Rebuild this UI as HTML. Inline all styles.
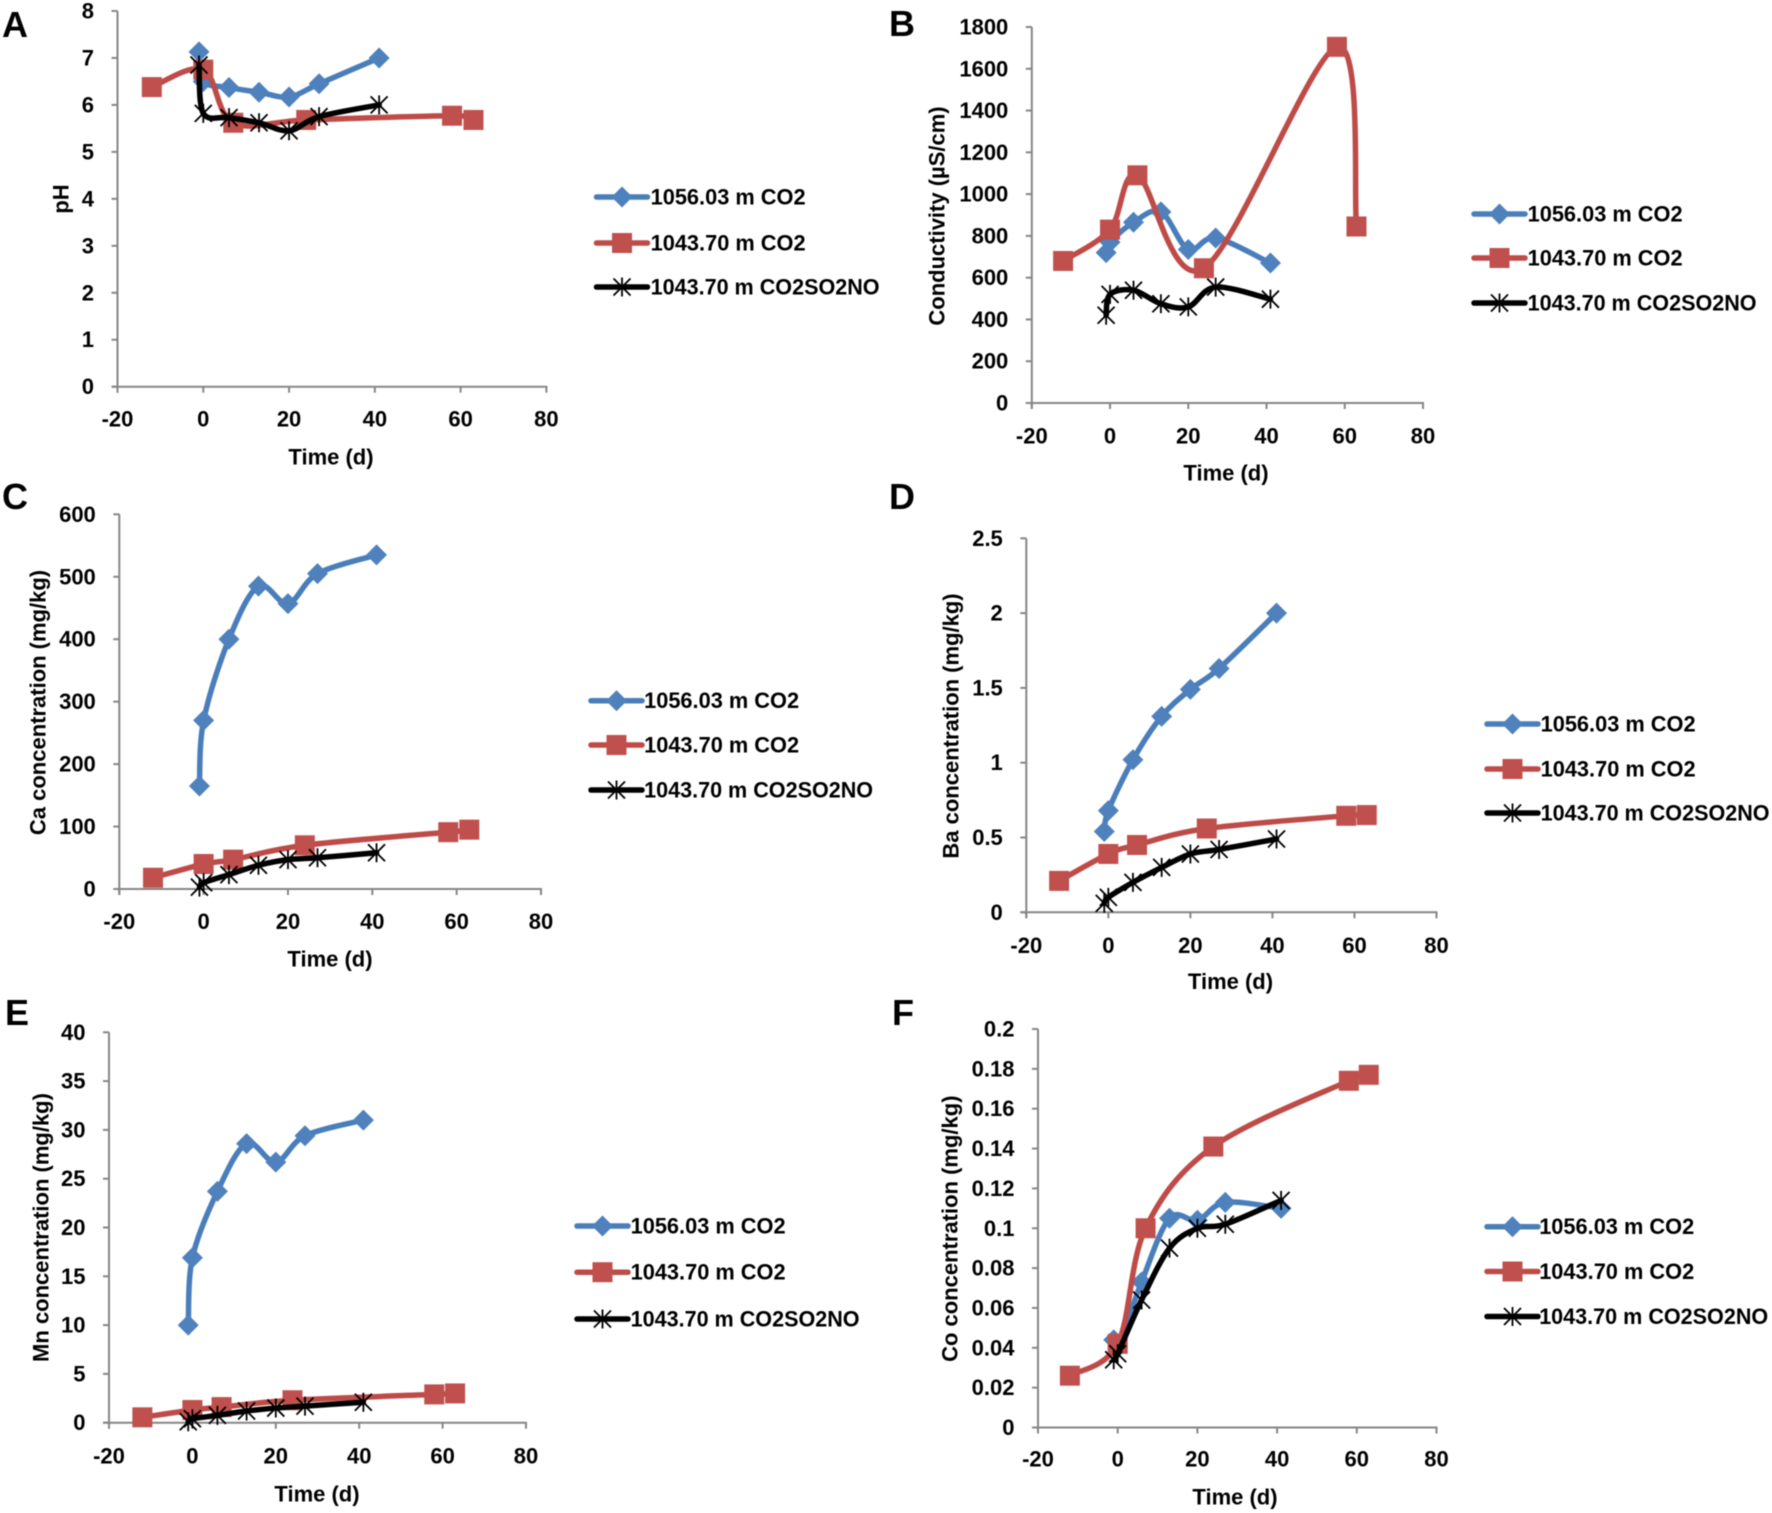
<!DOCTYPE html>
<html lang="en">
<head>
<meta charset="utf-8">
<title>Time series of pH, conductivity and metal concentrations</title>
<style>
html,body{margin:0;padding:0;background:#fff;}
svg{display:block;filter:blur(0.5px);}
text{font-family:"Liberation Sans",Arial,sans-serif;font-weight:bold;fill:#000;}
</style>
</head>
<body>
<svg id="figure" xmlns="http://www.w3.org/2000/svg" width="1772" height="1513" viewBox="0 0 1772 1513"></svg>
<script>
// Shared categories (days)
const timesBlue  = [-1, 0, 6, 13, 20, 27, 41];
const timesRed   = [-12, 0, 7, 24, 58, 63];
const timesBlack = [-1, 0, 6, 13, 20, 27, 41];
const xTickValues = [-20, 0, 20, 40, 60, 80];
const seriesNames = ['1056.03 m CO2', '1043.70 m CO2', '1043.70 m CO2SO2NO'];

// Panel A: pH
const phBlue  = [7.13, 6.5, 6.37, 6.27, 6.17, 6.45, 7.0];
const phRed   = [6.38, 6.75, 5.62, 5.68, 5.77, 5.68];
const phBlack = [6.85, 5.82, 5.73, 5.62, 5.45, 5.75, 6.0];
const phTicks = [0, 1, 2, 3, 4, 5, 6, 7, 8];

// Panel B: conductivity
const condBlue  = [720, 770, 865, 915, 735, 790, 670];
const condRed   = [680, 830, 1090, 645, 1705, 845];
const condBlack = [420, 520, 540, 475, 460, 555, 497];
const condTicks = [0, 200, 400, 600, 800, 1000, 1200, 1400, 1600, 1800];

// Panel C: Ca
const caBlue  = [165, 270, 400, 485, 457, 505, 535];
const caRed   = [18, 40, 47, 70, 91, 95];
const caBlack = [3, 10, 23, 38, 47, 50, 58];
const caTicks = [0, 100, 200, 300, 400, 500, 600];

// Panel D: Ba
const baBlue  = [0.54, 0.68, 1.02, 1.31, 1.49, 1.63, 2.0];
const baRed   = [0.21, 0.39, 0.45, 0.56, 0.645, 0.65];
const baBlack = [0.06, 0.1, 0.2, 0.3, 0.39, 0.42, 0.49];
const baTicks = [0, 0.5, 1, 1.5, 2, 2.5];

// Panel E: Mn
const mnBlue  = [10, 16.9, 23.7, 28.6, 26.7, 29.4, 31];
const mnRed   = [0.55, 1.3, 1.6, 2.3, 2.9, 3];
const mnBlack = [0.1, 0.4, 0.75, 1.2, 1.5, 1.7, 2.1];
const mnTicks = [0, 5, 10, 15, 20, 25, 30, 35, 40];

// Panel F: Co
const coBlue  = [0.044, 0.04, 0.073, 0.105, 0.104, 0.113, 0.11];
const coRed   = [0.026, 0.042, 0.1, 0.141, 0.174, 0.177];
const coBlack = [0.034, 0.037, 0.064, 0.09, 0.1, 0.102, 0.114];
const coTicks = [0, 0.02, 0.04, 0.06, 0.08, 0.1, 0.12, 0.14, 0.16, 0.18, 0.2];

const panels = [
  {id:'a', letter:'A', lx:2, ly:37, left:117.5, right:546.4, top:11, bottom:386.7, yMax:8,
   blue:phBlue, red:phRed, black:phBlack, ticks:phTicks, yTitle:'pH', yTitleX:61, yTitleY:199, xTitleX:331, xTitleY:457, xLabelY:419,
   legendX:596.5, legendTextX:650.6, legendY:[197, 243, 287]},
  {id:'b', letter:'B', lx:889, ly:36, left:1031.8, right:1423, top:27, bottom:403, yMax:1800,
   blue:condBlue, red:condRed, black:condBlack, ticks:condTicks, yTitle:'Conductivity (\u00B5S/cm)', yTitleX:937, yTitleY:216, xTitleX:1226, xTitleY:473, xLabelY:436,
   legendX:1474, legendTextX:1527.6, legendY:[214, 258, 303]},
  {id:'c', letter:'C', lx:2, ly:509, left:119.3, right:541, top:514.3, bottom:889, yMax:600,
   blue:caBlue, red:caRed, black:caBlack, ticks:caTicks, yTitle:'Ca concentration (mg/kg)', yTitleX:38, yTitleY:702.5, xTitleX:330, xTitleY:959, xLabelY:921.7,
   legendX:591, legendTextX:644.1, legendY:[700.7, 745, 790]},
  {id:'d', letter:'D', lx:889, ly:509, left:1026.3, right:1436.5, top:538.3, bottom:912.3, yMax:2.5,
   blue:baBlue, red:baRed, black:baBlack, ticks:baTicks, yTitle:'Ba concentration (mg/kg)', yTitleX:951, yTitleY:726, xTitleX:1230.5, xTitleY:981.7, xLabelY:945.7,
   legendX:1487, legendTextX:1540.6, legendY:[724, 769, 813]},
  {id:'e', letter:'E', lx:5, ly:1025, left:109, right:526, top:1032.3, bottom:1422.7, yMax:40,
   blue:mnBlue, red:mnRed, black:mnBlack, ticks:mnTicks, yTitle:'Mn concentration (mg/kg)', yTitleX:41, yTitleY:1227.5, xTitleX:317, xTitleY:1494, xLabelY:1456,
   legendX:577, legendTextX:630.6, legendY:[1226, 1272.2, 1319]},
  {id:'f', letter:'F', lx:892, ly:1025, left:1038, right:1436.5, top:1029, bottom:1427.5, yMax:0.2,
   blue:coBlue, red:coRed, black:coBlack, ticks:coTicks, yTitle:'Co concentration (mg/kg)', yTitleX:950, yTitleY:1228.7, xTitleX:1235, xTitleY:1497, xLabelY:1459,
   legendX:1487, legendTextX:1539.2, legendY:[1226.7, 1271.5, 1316.5]}
];

const NS = 'http://www.w3.org/2000/svg';
const svg = document.getElementById('figure');
const AXIS_COLOR = '#868686';
const BLUE = '#4A7EBB';
const RED = '#BE4B48';
const BLACK = '#000000';

function make(tag, parent, attrs, name) {
  const el = document.createElementNS(NS, tag);
  for (const k in attrs) el.setAttribute(k, attrs[k]);
  
  
  parent.appendChild(el);
  return el;
}

function label(parent, str, x, y, anchor, size, name, rotate) {
  const attrs = {x: x, y: y, 'text-anchor': anchor, 'font-size': size, 'dominant-baseline': 'central'};
  if (rotate) attrs.transform = 'rotate(-90 ' + x + ' ' + y + ')';
  const t = make('text', parent, attrs, name);
  t.textContent = str;
  return t;
}

// Excel-like smoothed line through the points
function smoothPath(pts) {
  let d = 'M' + pts[0][0].toFixed(2) + ' ' + pts[0][1].toFixed(2);
  for (let i = 0; i < pts.length - 1; i++) {
    const p0 = pts[Math.max(0, i - 1)], p1 = pts[i], p2 = pts[i + 1], p3 = pts[Math.min(pts.length - 1, i + 2)];
    const c1x = p1[0] + (p2[0] - p0[0]) / 6, c1y = p1[1] + (p2[1] - p0[1]) / 6;
    const c2x = p2[0] - (p3[0] - p1[0]) / 6, c2y = p2[1] - (p3[1] - p1[1]) / 6;
    d += ' C' + c1x.toFixed(2) + ' ' + c1y.toFixed(2) + ' ' + c2x.toFixed(2) + ' ' + c2y.toFixed(2) + ' ' + p2[0].toFixed(2) + ' ' + p2[1].toFixed(2);
  }
  return d;
}

function marker(parent, kind, cx, cy, name) {
  if (kind === 'diamond') {
    const r = 10.5;
    make('polygon', parent, {points: cx + ',' + (cy - r) + ' ' + (cx + r) + ',' + cy + ' ' + cx + ',' + (cy + r) + ' ' + (cx - r) + ',' + cy, fill: '#4F81BD'}, name);
  } else if (kind === 'square') {
    const s = 20;
    make('rect', parent, {x: cx - s / 2, y: cy - s / 2, width: s, height: s, fill: '#C0504D'}, name);
  } else {
    const r = 8.5;
    const d = 'M' + (cx - r) + ' ' + (cy - r) + 'L' + (cx + r) + ' ' + (cy + r) +
              'M' + (cx + r) + ' ' + (cy - r) + 'L' + (cx - r) + ' ' + (cy + r) +
              'M' + cx + ' ' + (cy - r - 1) + 'L' + cx + ' ' + (cy + r + 1);
    make('path', parent, {d: d, stroke: '#000', 'stroke-width': 1.8, fill: 'none'}, name);
  }
}

function drawPanel(p) {
  const g = make('g', svg, {}, 'panel-' + p.id);
  const xScale = function (v) { return p.left + (v + 20) / 100 * (p.right - p.left); };
  const yScale = function (v) { return p.bottom - v / p.yMax * (p.bottom - p.top); };

  const letter = make('text', g, {x: p.lx, y: p.ly, 'font-size': 36}, 'panel-label-' + p.id);
  letter.textContent = p.letter;

  // axes
  make('line', g, {x1: p.left, y1: p.top, x2: p.left, y2: p.bottom + 6, stroke: AXIS_COLOR, 'stroke-width': 2}, 'y-axis-' + p.id);
  make('line', g, {x1: p.left - 6, y1: p.bottom, x2: p.right + 1, y2: p.bottom, stroke: AXIS_COLOR, 'stroke-width': 2}, 'x-axis-' + p.id);

  p.ticks.forEach(function (v) {
    const y = yScale(v);
    make('line', g, {x1: p.left - 6, y1: y, x2: p.left, y2: y, stroke: AXIS_COLOR, 'stroke-width': 2}, 'y-tick-' + p.id);
    label(g, String(v), p.left - 23.5, y, 'end', 22, 'y-tick-label-' + p.id);
  });
  xTickValues.forEach(function (v) {
    const x = xScale(v);
    make('line', g, {x1: x, y1: p.bottom, x2: x, y2: p.bottom + 6, stroke: AXIS_COLOR, 'stroke-width': 2}, 'x-tick-' + p.id);
    label(g, String(v), x, p.xLabelY, 'middle', 22, 'x-tick-label-' + p.id);
  });

  label(g, p.yTitle, p.yTitleX, p.yTitleY, 'middle', 22, 'y-axis-title-' + p.id, true);
  label(g, 'Time (d)', p.xTitleX, p.xTitleY, 'middle', 22, 'x-axis-title-' + p.id);

  const series = [
    {key: 'blue', times: timesBlue, values: p.blue, color: BLUE, kind: 'diamond'},
    {key: 'red', times: timesRed, values: p.red, color: RED, kind: 'square'},
    {key: 'black', times: timesBlack, values: p.black, color: BLACK, kind: 'star'}
  ];
  series.forEach(function (s, idx) {
    const pts = s.times.map(function (t, i) { return [xScale(t), yScale(s.values[i])]; });
    make('path', g, {d: smoothPath(pts), fill: 'none', stroke: s.color, 'stroke-width': 5.5, 'stroke-linecap': 'round', 'stroke-linejoin': 'round'}, 'series-line-' + s.key + '-' + p.id);
    pts.forEach(function (pt) {
      marker(g, s.kind, pt[0], pt[1], 'data-point-' + s.key + '-' + p.id);
    });
    // legend entry
    const ly = p.legendY[idx];
    const lg = make('g', g, {}, 'legend-entry-' + s.key + '-' + p.id);
    make('line', lg, {x1: p.legendX, y1: ly, x2: p.legendX + 51, y2: ly, stroke: s.color, 'stroke-width': 5.5, 'stroke-linecap': 'round'}, 'legend-line-' + s.key);
    marker(lg, s.kind, p.legendX + 25.5, ly, 'legend-marker-' + s.key);
    const t = label(lg, seriesNames[idx], p.legendTextX, ly, 'start', 22, 'legend-label-' + s.key);
    t.setAttribute('textLength', idx === 2 ? 229 : 155);
    t.setAttribute('lengthAdjust', 'spacingAndGlyphs');
  });
}

panels.forEach(drawPanel);
</script>
</body>
</html>
